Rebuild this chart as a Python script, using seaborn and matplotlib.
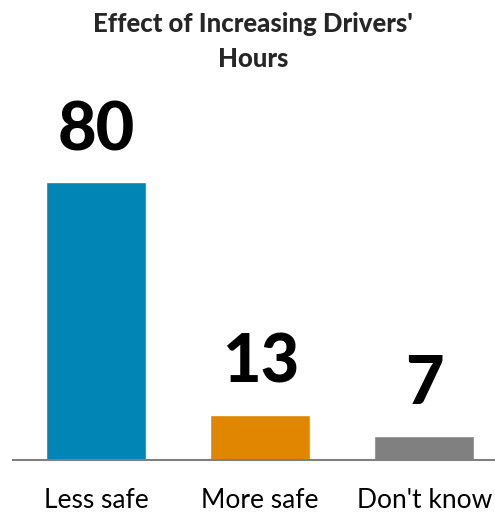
import pandas as pd
import seaborn as sns
import matplotlib.pyplot as plt

categories = ["Less safe", "More safe", "Don't know"]
values = [80, 13, 7]
colors = ["#0085B4", "#E08600", "#808080"]

sns.set_theme(style="white")
plt.rcParams['font.family'] = ['Lato', 'DejaVu Sans']

df = pd.DataFrame({"answer": categories, "pct": values})

fig = plt.figure(figsize=(4.95, 5.12), dpi=100)
ax = fig.add_axes([13 / 495, 52 / 512, 482 / 495, 347.5 / 512])
sns.barplot(data=df, x="answer", y="pct", hue="answer", palette=colors,
            width=0.61, legend=False, ax=ax, saturation=1)

for i, v in enumerate(values):
    ax.text(i, v + 9.2, str(v), ha="center", va="baseline",
            fontsize=48, fontweight="black", color="black")

ax.set_ylim(0, 100)
ax.set_xlim(-0.505, 2.43)
ax.set_xlabel("")
ax.set_ylabel("")
ax.set_yticks([])
ax.tick_params(axis="x", length=0, pad=20, labelsize=19, labelcolor="black")
for s in ["top", "right", "left"]:
    ax.spines[s].set_visible(False)
ax.spines["bottom"].set_color("#808080")
ax.spines["bottom"].set_linewidth(1.5)

fig.text(253 / 495, 1 - 24 / 512, "Effect of Increasing Drivers'",
         ha="center", va="center", fontsize=18.5, fontweight="black")
fig.text(253 / 495, 1 - 59 / 512, "Hours",
         ha="center", va="center", fontsize=18.5, fontweight="black")

fig.savefig("out.png", dpi=100)
